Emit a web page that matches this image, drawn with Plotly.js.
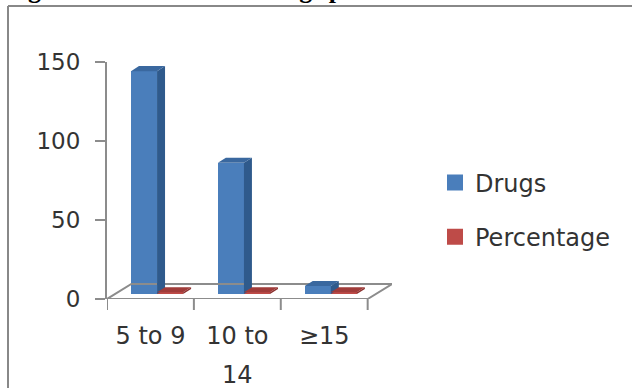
<!DOCTYPE html>
<html>
<head>
<meta charset="utf-8">
<script src="https://cdn.plot.ly/plotly-3.0.1.min.js"></script>
<style>
html,body{margin:0;padding:0;background:#fff;overflow:hidden}
#chart{width:632px;height:388px}
</style>
</head>
<body>
<div id="chart"></div>
<script>
// Prescribed drugs by group, drawn as columns with a faux 3-D depth.
const tickLabels = ['5 to 9', '10 to', '≥15'];
const tickLabelSecondLine = '14';
const drugs = [141, 83, 5];
const percentage = [1, 1, 1];

const seriesNames = ['Drugs', 'Percentage'];
const frontColors = ['#4a7ebb', '#be4b48'];
const sideColors = ['#2f5a8c', '#8c3230'];
const topColors = ['#3a689f', '#a03c3a'];
const lineGrey = '#8c8c8c';
const textColor = '#333';

// Depth and placement in axis units
const barWidth = 0.3;
const depthX = 0.092;
const depthY = 3.2;
const floorLift = 3.2;
const floorDepthX = 0.28;
const floorDepthY = 9.5;
const barStarts = [-0.224, 0.076];
const xIdx = tickLabels.map((_, i) => i);

function frontBar(values, s) {
  return {
    type: 'bar', x: xIdx, y: values, base: floorLift, width: barWidth,
    offset: barStarts[s], showlegend: false,
    marker: {color: frontColors[s], line: {width: 0}}, cliponaxis: false
  };
}

// One filled polygon per column face; gaps separate the columns.
function face(values, s, kind) {
  const xs = [], ys = [];
  values.forEach((v, i) => {
    const x0 = i + barStarts[s], x1 = x0 + barWidth, y1 = v + floorLift;
    if (kind === 'side') {
      xs.push(x1, x1 + depthX, x1 + depthX, x1, x1, null);
      ys.push(floorLift, floorLift + depthY, y1 + depthY, y1, floorLift, null);
    } else {
      xs.push(x0, x1, x1 + depthX, x0 + depthX, x0, null);
      ys.push(y1, y1, y1 + depthY, y1 + depthY, y1, null);
    }
  });
  return {
    type: 'scatter', mode: 'lines', x: xs, y: ys, fill: 'toself',
    fillcolor: kind === 'side' ? sideColors[s] : topColors[s],
    line: {width: 0}, hoverinfo: 'skip', showlegend: false, cliponaxis: false
  };
}

// Legend keys: square markers, larger than the fixed bar swatch
function legendKey(s) {
  return {
    type: 'scatter', mode: 'markers', x: [null], y: [null], name: seriesNames[s],
    legendgroup: seriesNames[s],
    marker: {symbol: 'square', size: 16, color: frontColors[s]}
  };
}

const floor = {
  type: 'scatter', mode: 'lines', cliponaxis: false, showlegend: false, hoverinfo: 'skip',
  x: [-0.5, -0.5 + floorDepthX, 2.5 + floorDepthX, 2.5, -0.5],
  y: [0, floorDepthY, floorDepthY, 0, 0],
  line: {color: lineGrey, width: 2}
};

const traces = [
  floor,
  frontBar(drugs, 0), face(drugs, 0, 'side'), face(drugs, 0, 'top'),
  frontBar(percentage, 1), face(percentage, 1, 'side'), face(percentage, 1, 'top'),
  legendKey(0), legendKey(1)
];

const W = 632, H = 388;
const plot = {l: 107, r: 392, t: 62, b: 299};
const px = v => (v - plot.l) / (plot.r - plot.l);
const py = v => (plot.b - v) / (plot.b - plot.t);

const layout = {
  width: W, height: H,
  margin: {l: plot.l, r: W - plot.r, t: plot.t, b: H - plot.b},
  paper_bgcolor: '#fff', plot_bgcolor: 'rgba(0,0,0,0)',
  font: {family: 'DejaVu Sans', color: textColor},
  bargap: 0, showlegend: true,
  xaxis: {
    range: [-0.5, 2.5 + floorDepthX], tickmode: 'array', tickvals: xIdx, ticktext: tickLabels,
    showgrid: false, zeroline: false, showline: false,
    ticks: '', ticklabelstandoff: 20, tickfont: {size: 24, color: textColor}, fixedrange: true
  },
  yaxis: {
    range: [0, 150], tickvals: [0, 50, 100, 150], ticks: 'outside', ticklen: 10,
    tickcolor: lineGrey, tickwidth: 2, showgrid: false, zeroline: false,
    showline: true, linecolor: lineGrey, linewidth: 2, ticklabelstandoff: 10,
    tickfont: {size: 23, color: textColor}, fixedrange: true
  },
  legend: {
    x: px(435), y: py(210), yanchor: 'middle', xanchor: 'left',
    traceorder: 'grouped', tracegroupgap: 20, font: {size: 24, color: textColor},
    itemwidth: 30, bgcolor: 'rgba(0,0,0,0)'
  },
  shapes: [
    // chart frame, open at the bottom and right
    {type: 'line', xref: 'paper', yref: 'paper', x0: px(8), x1: px(8), y0: py(6), y1: py(388), line: {color: '#888', width: 2}},
    {type: 'line', xref: 'paper', yref: 'paper', x0: px(8), x1: px(632), y0: py(6), y1: py(6), line: {color: '#888', width: 2}},
    // tick marks below the front floor edge
    ...[-0.5, 0.5, 1.5, 2.5].map(v => ({type: 'line', xref: 'x', yref: 'paper', x0: v, x1: v, y0: py(299), y1: py(310), line: {color: lineGrey, width: 2}}))
  ],
  annotations: [
    {
      text: '<b>Fig 3. Total number of drugs prescribed.</b>', showarrow: false,
      xref: 'paper', yref: 'paper', x: px(3), y: py(6), xanchor: 'left', yanchor: 'bottom',
      font: {family: 'Liberation Serif', size: 26, color: '#000'}
    },
    {
      text: tickLabelSecondLine, showarrow: false, xref: 'x', yref: 'paper', x: 1, y: py(375),
      yanchor: 'middle', font: {size: 24, color: textColor}
    }
  ]
};

Plotly.newPlot('chart', traces, layout, {displayModeBar: false, staticPlot: true});
</script>
</body>
</html>
